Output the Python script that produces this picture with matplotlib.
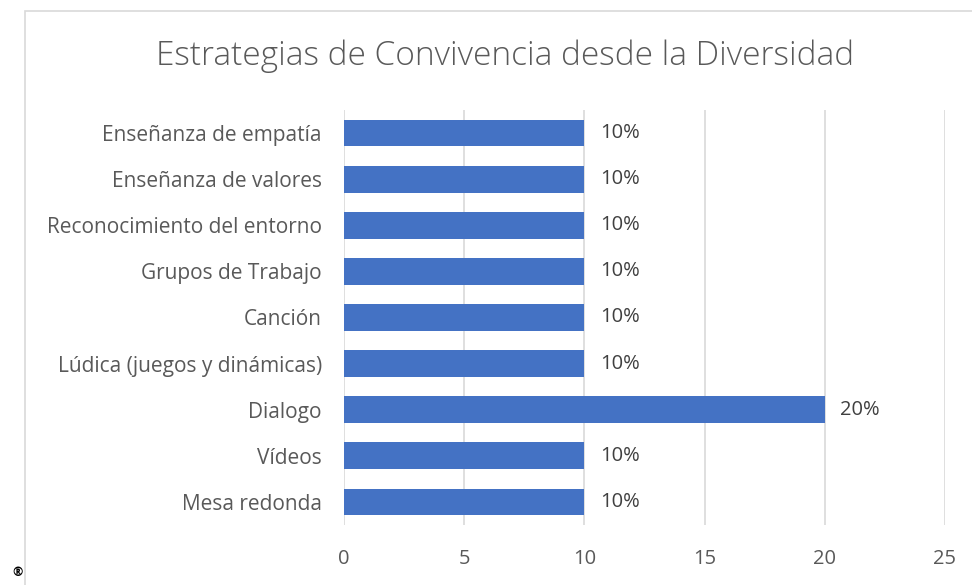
import matplotlib
matplotlib.use("Agg")
import matplotlib.pyplot as plt
from matplotlib.patches import Rectangle

# -----------------------------
# Data
# -----------------------------
categories = [
    "Enseñanza de empatía",
    "Enseñanza de valores",
    "Reconocimiento del entorno",
    "Grupos de Trabajo",
    "Canción",
    "Lúdica (juegos y dinámicas)",
    "Dialogo",
    "Vídeos",
    "Mesa redonda",
]
values = [10, 10, 10, 10, 10, 10, 20, 10, 10]
labels = ["10%", "10%", "10%", "10%", "10%", "10%", "20%", "10%", "10%"]
xticks = [0, 5, 10, 15, 20, 25]

title = "Estrategias de Convivencia desde la Diversidad"

text_color = "#595959"
bar_color = "#4472C4"
grid_color = "#d9d9d9"

plt.rcParams["font.family"] = ["Open Sans", "DejaVu Sans"]

fig = plt.figure(figsize=(9.72, 5.85), dpi=100)
ax = fig.add_axes([0.3539, 0.1026, 0.6183, 0.7094])

# chart border (extends past image edges)
fig.patches.append(Rectangle((25 / 972, -0.1), 1.2, 1 - 11 / 585 + 0.1,
                             transform=fig.transFigure, fill=False,
                             edgecolor=grid_color, linewidth=1.2))

y = list(range(len(categories)))
ax.barh(y, values, height=0.58, color=bar_color, zorder=3)

for yi, v, lab in zip(y, values, labels):
    ax.text(v + 0.65, yi, lab, va="center", ha="left",
            fontsize=14.5, color="#404040")

ax.set_yticks(y)
ax.set_yticklabels(categories, fontsize=15, color=text_color)
ax.set_ylim(len(categories) - 0.5, -0.5)

ax.set_xlim(0, 25)
ax.set_xticks(xticks)
ax.set_xticklabels([str(t) for t in xticks], fontsize=14.5, color=text_color)

ax.grid(axis="x", color=grid_color, linewidth=1.2, zorder=0)
for s in ax.spines.values():
    s.set_visible(False)
ax.tick_params(axis="both", length=0)
ax.tick_params(axis="y", pad=16)
ax.tick_params(axis="x", pad=17)

fig.text(505 / 972, 1 - 56 / 585, title, ha="center", va="center",
         fontsize=24, color=text_color, fontweight="light")

fig.text(18 / 972, 1 - 573 / 585, "®", ha="center", va="center",
         fontsize=9, fontweight="bold", color="black")

fig.savefig("out.png", dpi=100)
